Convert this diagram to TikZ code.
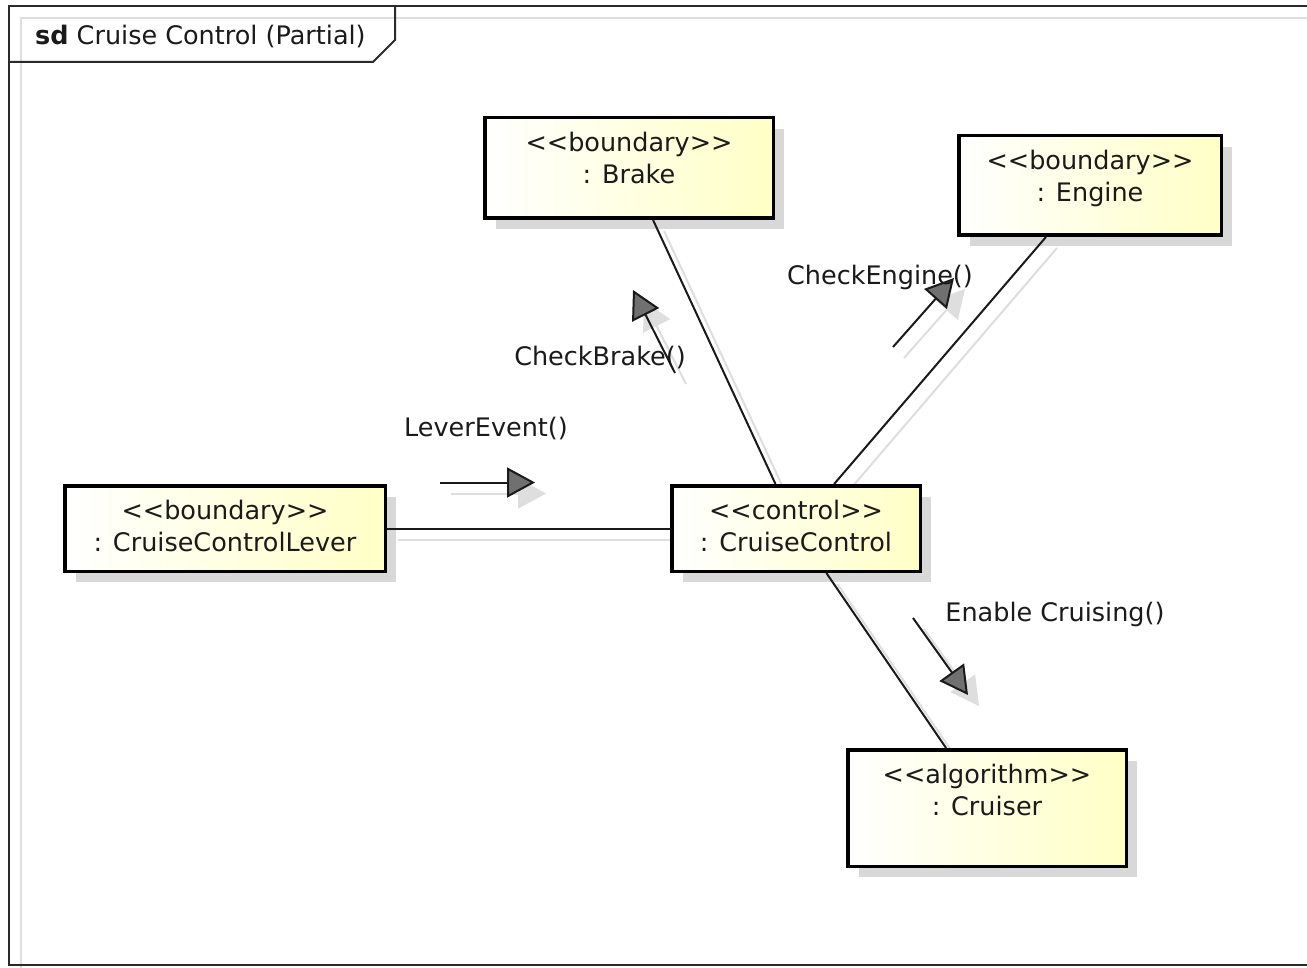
\documentclass[tikz,border=0pt]{standalone}
\usepackage{fontspec}
\setmainfont{DejaVu Sans}[Ligatures=TeXOff]
\usetikzlibrary{arrows.meta,shadows}

\definecolor{ink}{HTML}{1A1A1A}
\definecolor{framecol}{HTML}{2A2A2A}
\definecolor{boxyellow}{HTML}{FFFFC6}
\definecolor{boxshadow}{HTML}{D8D8D8}
\definecolor{lineshadow}{HTML}{DEDEDE}
\definecolor{tipgray}{HTML}{707070}

\pgfdeclarelayer{bg}
\pgfsetlayers{bg,main}

\tikzset{
  x=1pt, y=-1pt,
  obj/.style={draw=black, line width=3.5pt, left color=white, right color=boxyellow,
              inner sep=0pt,
              drop shadow={shadow xshift=11pt, shadow yshift=-11pt, fill=boxshadow, opacity=1}},
  objtext/.style={anchor=north, align=center, inner sep=0pt, yshift=-16pt,
                  font=\fontsize{25.5}{32}\selectfont, text=ink},
  link/.style={line width=2pt, draw=ink},
  linkshadow/.style={line width=2pt, draw=lineshadow},
  msg/.style={line width=2pt, draw=ink,
              -{Triangle[length=28pt,width=30pt,fill=tipgray]}},
  msgshadow/.style={line width=2pt, draw=lineshadow,
              -{Triangle[length=28pt,width=30pt,fill=lineshadow]}},
  msglabel/.style={anchor=base, inner sep=0pt, font=\fontsize{25.5}{32}\selectfont, text=ink},
  shadowshift/.style={transform canvas={shift={(11,11)}}},
}

\begin{document}
\begin{tikzpicture}
\useasboundingbox (0,0) rectangle (1307,968);
\begin{pgfonlayer}{bg}
  \fill[white] (0,0) rectangle (1307,968);
\end{pgfonlayer}

% frame shadow and outline
\draw[lineshadow, line width=2pt] (21,968) -- (21,18) -- (1307,18);
\draw[framecol, line width=2.5pt] (1320,6) -- (9,6) -- (9,965) -- (1320,965);
% frame title tab
\draw[framecol, line width=2pt] (395,6) -- (395,40) -- (373,62) -- (9,62);
\node[anchor=base west, inner sep=0pt, font=\fontsize{25.5}{32}\selectfont, text=ink]
  (frametitle) at (35,45) {\textbf{sd} Cruise Control (Partial)};

% objects
\node[obj, minimum width=288.5pt, minimum height=100.5pt] (brake)  at (629,168) {};
\node[obj, minimum width=262.5pt, minimum height=99.5pt]  (engine) at (1090,185.5) {};
\node[obj, minimum width=320.5pt, minimum height=85.5pt]  (lever)  at (225,528.5) {};
\node[obj, minimum width=248.5pt, minimum height=85.5pt]  (cc)     at (796,528.5) {};
\node[obj, minimum width=278.5pt, minimum height=116.5pt] (cruiser) at (987,808) {};

\node[objtext] (brakeT)   at (brake.north)   {<<boundary>>\\: Brake};
\node[objtext] (engineT)  at (engine.north)  {<<boundary>>\\: Engine};
\node[objtext] (leverT)   at (lever.north)   {<<boundary>>\\: CruiseControlLever};
\node[objtext] (ccT)      at (cc.north)      {<<control>>\\: CruiseControl};
\node[objtext] (cruiserT) at (cruiser.north) {<<algorithm>>\\: Cruiser};

% links, each with a pale offset shadow behind it
\begin{pgfonlayer}{bg}
  \begin{scope}[shadowshift]
    \draw[linkshadow] (lever) -- (cc);
    \draw[linkshadow] (brake) -- (cc);
    \draw[linkshadow] (engine) -- (cc);
    \draw[linkshadow] (cc) -- (cruiser);
  \end{scope}
\end{pgfonlayer}
\draw[link] (lever) -- (cc);
\draw[link] (brake) -- (cc);
\draw[link] (engine) -- (cc);
\draw[link] (cc) -- (cruiser);

% messages
\coordinate (leA) at (440,482.5);  \coordinate (leB) at (535,482.5);
\coordinate (cbA) at (675,373);    \coordinate (cbB) at (633,290);
\coordinate (ceA) at (893,347);    \coordinate (ceB) at (954,278);
\coordinate (ecA) at (913,618);    \coordinate (ecB) at (968,695);

\begin{pgfonlayer}{bg}
  \begin{scope}[shadowshift]
    \draw[msgshadow] (leA) -- (leB);
    \draw[msgshadow] (cbA) -- (cbB);
    \draw[msgshadow] (ceA) -- (ceB);
    \draw[msgshadow] (ecA) -- (ecB);
  \end{scope}
\end{pgfonlayer}
\draw[msg] (leA) -- (leB);
\draw[msg] (cbA) -- (cbB);
\draw[msg] (ceA) -- (ceB);
\draw[msg] (ecA) -- (ecB);

\node[msglabel] (leL) at (486,436) {LeverEvent()};
\node[msglabel] (cbL) at (600,366) {CheckBrake()};
\node[msglabel] (ceL) at (880,285) {CheckEngine()};
\node[msglabel] (ecL) at (1055,621) {Enable Cruising()};
\end{tikzpicture}
\end{document}
